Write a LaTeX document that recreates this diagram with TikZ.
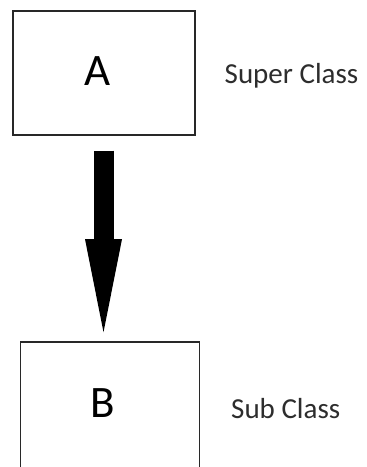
\documentclass[tikz,border=0pt]{standalone}
\usepackage{fontspec}
\setmainfont{Carlito}
\usepackage{tikz}
\usetikzlibrary{arrows.meta,positioning}
\usepackage{xcolor}
\definecolor{boxgray}{RGB}{40,40,40}
\definecolor{textgray}{RGB}{45,45,45}
\tikzstyle{classbox} = [draw=boxgray, line width=1.6pt, inner sep=0pt]
\tikzstyle{letter} = [font=\fontsize{45}{54}\selectfont, text=black, inner sep=0pt]
\tikzstyle{caption} = [font=\fontsize{29}{35}\selectfont, text=textgray, inner sep=0pt, anchor=base west]
\tikzstyle{bigarrow} = [line width=20pt, -{Triangle[width=37pt,length=93pt,line width=0pt 0 0]}, shorten <=15pt, shorten >=9pt]

\begin{document}
\begin{tikzpicture}[x=1pt, y=-1pt]
\clip (0,0) rectangle (367,467);
\fill[white] (0,0) rectangle (367,467);

% Boxes
\node[classbox, minimum width=182pt, minimum height=124pt] (A) at (104,72.8) {};
\node[classbox, minimum width=179pt, minimum height=134pt] (B) at (110,409) {};

% Letters
\node[letter] (a) at (97.5,71.3) {A};
\node[letter] (b) at (103,403) {B};

% Captions
\node[caption] (super) at (224.5,83.3) {Super Class};
\node[caption] (sub) at (231,418) {Sub Class};

% Arrow
\coordinate (top) at ([xshift=-0.5pt]A.south);
\draw[bigarrow] (top) -- (top |- B.north);
\end{tikzpicture}
\end{document}
